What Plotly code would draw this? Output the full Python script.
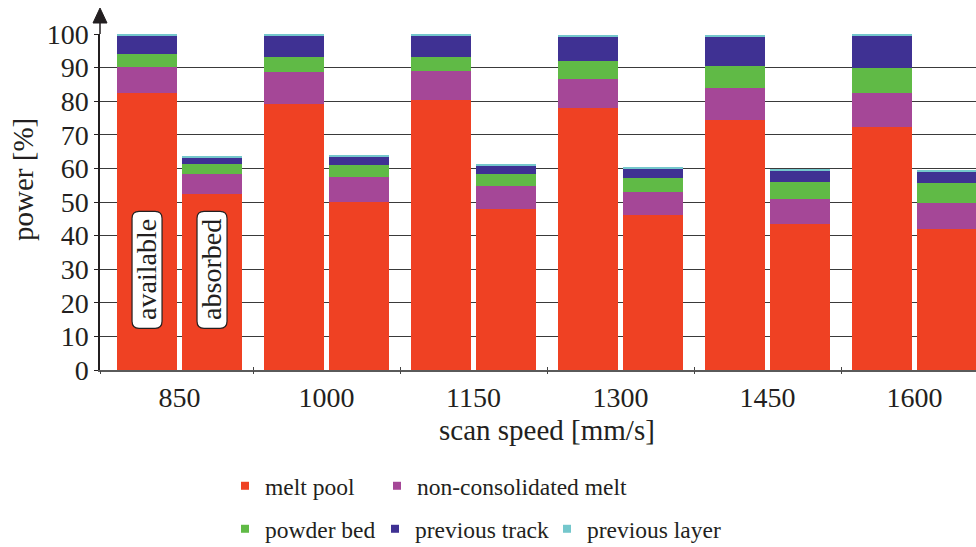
import plotly.graph_objects as go

# Scan speeds (mm/s) and the power split for each speed, in percent
speeds = ["850", "1000", "1150", "1300", "1450", "1600"]

# "available" column of each group
melt_pool_avail = [82.4, 79.3, 80.4, 78.1, 74.5, 72.3]
non_cons_avail = [7.8, 9.5, 8.6, 8.5, 9.4, 10.1]
powder_bed_avail = [3.9, 4.4, 4.2, 5.4, 6.6, 7.5]
prev_track_avail = [5.4, 6.3, 6.3, 7.4, 8.9, 9.6]
prev_layer_avail = [0.5, 0.5, 0.5, 0.3, 0.4, 0.5]

# "absorbed" column of each group
melt_pool_abs = [52.5, 50.0, 47.9, 46.1, 43.5, 42.0]
non_cons_abs = [5.9, 7.4, 6.9, 6.9, 7.4, 7.7]
powder_bed_abs = [2.9, 3.6, 3.5, 4.1, 5.1, 6.0]
prev_track_abs = [1.9, 2.4, 2.5, 2.7, 3.2, 3.2]
prev_layer_abs = [0.6, 0.6, 0.3, 0.6, 0.6, 0.7]

y_ticks = list(range(0, 101, 10))

FONT = "Liberation Serif"
INK = "#231F20"

OFFSET = 0.221   # half distance between the two columns of a group
BAR_W = 0.408
X_MIN, X_MAX = -0.541, 5.418

groups = list(range(len(speeds)))
x_avail = [g - OFFSET for g in groups]
x_abs = [g + OFFSET for g in groups]
x_all = x_avail + x_abs

series = [
    ("melt pool", "#EF4123", melt_pool_avail, melt_pool_abs),
    ("non-consolidated melt", "#A54797", non_cons_avail, non_cons_abs),
    ("powder bed", "#60BA46", powder_bed_avail, powder_bed_abs),
    ("previous track", "#3F3193", prev_track_avail, prev_track_abs),
    ("previous layer", "#74C7CC", prev_layer_avail, prev_layer_abs),
]

# legend slots: (left edge in px, vertical centre in px)
legend_slots = [(225, 486), (377, 486), (225, 529), (375, 529), (547, 529)]
PLOT_L, PLOT_W, PLOT_B, PLOT_H = 100, 876, 370, 336

fig = go.Figure()
legend_layouts = {}
for k, (name, color, avail, absorbed) in enumerate(series):
    leg_id = "legend" if k == 0 else f"legend{k + 1}"
    fig.add_trace(go.Bar(
        x=x_all,
        y=avail + absorbed,
        width=BAR_W,
        name=name,
        marker=dict(color=color, line=dict(width=0)),
        legendgroup=name,
        showlegend=False,
    ))
    # small square key for the legend entry
    fig.add_trace(go.Scatter(
        x=[None], y=[None], mode="markers", name=name,
        marker=dict(symbol="square", size=8, color=color),
        legendgroup=name, legend=leg_id, hoverinfo="skip",
    ))
    lx, ly = legend_slots[k]
    legend_layouts[leg_id] = dict(
        orientation="h",
        x=(lx - PLOT_L) / PLOT_W, y=-(ly - PLOT_B) / PLOT_H,
        xanchor="left", yanchor="middle",
        font=dict(size=23.5, family=FONT, color=INK),
        bgcolor="rgba(0,0,0,0)",
    )

# separator ticks between groups (crossing the axis line)
sep_ticks = [X_MIN] + [g + 0.5 for g in groups[:-1]]

fig.update_layout(
    width=976, height=547, autosize=False,
    margin=dict(l=100, r=0, t=34, b=177, pad=0, autoexpand=False),
    paper_bgcolor="white", plot_bgcolor="white",
    barmode="stack",
    font=dict(family=FONT, color=INK, size=28),
    showlegend=True,
    xaxis=dict(
        range=[X_MIN, X_MAX], tickvals=groups, ticktext=speeds,
        ticks="", showgrid=False, zeroline=False,
        showline=True, linecolor="#5a5a5a", linewidth=1.5,
        tickfont=dict(size=28, family=FONT, color=INK),
        ticklabelstandoff=2,
    ),
    xaxis2=dict(
        range=[X_MIN, X_MAX], overlaying="x", anchor="y", side="bottom",
        tickvals=sep_ticks, ticks="outside", ticklen=3, tickwidth=1.3,
        tickcolor="#444", showticklabels=False, showgrid=False,
        zeroline=False, showline=False,
    ),
    xaxis3=dict(
        range=[X_MIN, X_MAX], overlaying="x", anchor="y", side="bottom",
        tickvals=sep_ticks, ticks="inside", ticklen=3, tickwidth=1.3,
        tickcolor="#444", showticklabels=False, showgrid=False,
        zeroline=False, showline=False,
    ),
    yaxis=dict(
        range=[0, 100], tickvals=y_ticks,
        showgrid=True, gridcolor="#3a3a3a", gridwidth=1.3,
        zeroline=False, showline=True, linecolor=INK, linewidth=1.5,
        ticks="outside", ticklen=4, tickcolor=INK, tickwidth=1.3,
        tickfont=dict(size=28, family=FONT, color=INK),
    ),
    **legend_layouts,
)

# dummy traces so the overlay axes carry their separator ticks
for ax in ("x2", "x3"):
    fig.add_trace(go.Scatter(x=[None], y=[None], xaxis=ax, showlegend=False,
                             hoverinfo="skip"))

# arrow extending the y axis above the plot
fig.add_shape(type="line", xref="paper", yref="paper",
              xsizemode="pixel", ysizemode="pixel", xanchor=0, yanchor=1,
              x0=0, x1=0, y0=0, y1=14, line=dict(color=INK, width=1.5))
fig.add_shape(type="path", xref="paper", yref="paper",
              xsizemode="pixel", ysizemode="pixel", xanchor=0, yanchor=1,
              path="M -7,11 L 7,11 L 0,26 Z", fillcolor=INK,
              line=dict(color=INK, width=1))

# rounded label boxes naming the two columns of a group
LABEL_Y = 29.8
BOX_PATH = ("M -15,-51.5 L -15,51.5 Q -15,58.5 -8,58.5 L 8,58.5 "
            "Q 15,58.5 15,51.5 L 15,-51.5 Q 15,-58.5 8,-58.5 "
            "L -8,-58.5 Q -15,-58.5 -15,-51.5 Z")
annotations = [
    dict(text="power [%]", xref="paper", yref="paper",
         x=-77 / PLOT_W, y=(PLOT_B - 180) / PLOT_H,
         xanchor="center", yanchor="middle",
         textangle=-90, showarrow=False, font=dict(size=29)),
    dict(text="scan speed [mm/s]", xref="paper", yref="paper",
         x=(547 - PLOT_L) / PLOT_W, y=-(430 - PLOT_B) / PLOT_H,
         xanchor="center", yanchor="middle", showarrow=False,
         font=dict(size=29)),
]
for label, xpos in (("available", x_avail[0]), ("absorbed", x_abs[0])):
    fig.add_shape(type="path", xref="x", yref="y",
                  xsizemode="pixel", ysizemode="pixel",
                  xanchor=xpos, yanchor=LABEL_Y, path=BOX_PATH,
                  fillcolor="white", line=dict(color=INK, width=1.2),
                  layer="above")
    annotations.append(dict(
        text=label, x=xpos, y=LABEL_Y, xref="x", yref="y",
        textangle=-90, showarrow=False, font=dict(size=28),
    ))
fig.update_layout(annotations=annotations)

fig.write_html("out.html")
